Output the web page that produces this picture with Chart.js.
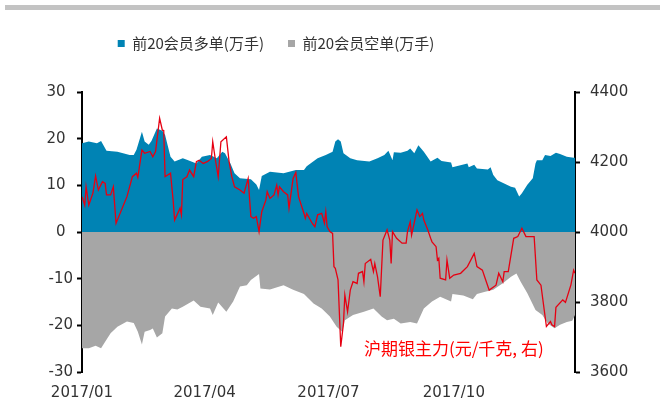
<!DOCTYPE html>
<html>
<head>
<meta charset="utf-8">
<script src="https://cdn.jsdelivr.net/npm/chart.js@4/dist/chart.umd.min.js"></script>
<style>
  body { margin: 0; background: #fff; }
  #wrap { position: relative; width: 660px; height: 419px; }
  #topbar { position: absolute; left: 5px; top: 5px; width: 655px; height: 5px; background: #c3c3c3; }
</style>
</head>
<body>
<div id="wrap">
  <div id="topbar"></div>
  <canvas id="chart" width="660" height="419"></canvas>
</div>
<script>
// x values are days since 2017-01-01
const tickDays = [0, 90, 181, 273];
const tickLabels = ['2017/01', '2017/04', '2017/07', '2017/10'];

// 前20会员多单(万手)
const longDays = [0, 5, 11, 14, 18, 26, 35, 38, 40, 44, 46, 49, 51, 55, 59, 61, 65, 68, 74, 77, 84, 88, 94, 99, 103, 105, 109, 112, 116, 124, 128, 130, 132, 138, 148, 157, 163, 165, 173, 179, 184, 186, 188, 190, 192, 197, 202, 211, 217, 222, 225, 228, 229, 234, 239, 241, 244, 247, 251, 256, 261, 264, 271, 272, 283, 284, 288, 290, 298, 300, 302, 305, 310, 315, 318, 321, 323, 327, 331, 333, 334, 338, 340, 344, 348, 351, 356, 361, 362];
const longValues = [19.0, 19.4, 19.0, 19.5, 17.4, 17.2, 16.5, 16.5, 17.6, 21.5, 19.4, 18.7, 19.5, 22.2, 21.7, 20.8, 16.1, 15.1, 15.8, 15.5, 14.7, 16.1, 16.5, 15.8, 17.2, 16.9, 14.7, 12.6, 11.5, 11.3, 10.2, 9.0, 12.0, 12.9, 12.6, 13.3, 13.3, 14.1, 15.8, 16.5, 17.2, 19.4, 19.9, 19.4, 16.9, 15.8, 15.4, 15.1, 15.8, 16.5, 17.4, 15.4, 17.1, 17.0, 17.4, 17.9, 16.9, 18.6, 17.2, 15.1, 15.9, 15.2, 14.9, 13.9, 14.7, 13.9, 14.4, 13.6, 13.4, 13.9, 12.2, 11.1, 10.4, 9.7, 9.5, 7.6, 8.3, 10.1, 11.5, 14.7, 15.4, 15.4, 16.5, 16.3, 17.0, 16.7, 16.1, 15.9, 15.9];

// 前20会员空单(万手)
const shortDays = [0, 5, 10, 14, 17, 21, 26, 33, 38, 41, 44, 46, 50, 52, 55, 59, 61, 66, 70, 74, 82, 87, 94, 96, 100, 106, 111, 116, 121, 124, 130, 131, 138, 148, 155, 163, 170, 176, 182, 187, 191, 193, 199, 207, 214, 220, 224, 229, 234, 241, 246, 251, 257, 263, 271, 272, 280, 287, 290, 296, 302, 309, 315, 319, 322, 327, 333, 338, 342, 347, 351, 356, 360, 362];
const shortValues = [-24.9, -24.9, -24.4, -24.9, -23.5, -21.7, -20.3, -19.2, -19.5, -21.4, -24.1, -21.4, -21.0, -20.7, -22.6, -21.7, -18.1, -16.4, -16.6, -16.0, -14.7, -16.0, -16.4, -17.8, -15.1, -17.1, -14.9, -11.7, -11.4, -10.3, -9.0, -12.1, -12.3, -11.4, -12.4, -13.3, -15.3, -16.4, -18.1, -20.3, -21.4, -18.9, -17.8, -17.1, -16.4, -18.1, -18.9, -18.6, -19.6, -19.3, -19.6, -16.4, -14.9, -13.9, -14.9, -13.3, -13.6, -14.4, -13.3, -12.8, -12.4, -11.0, -9.6, -8.9, -10.6, -13.1, -16.7, -17.8, -19.6, -20.6, -19.9, -19.3, -19.0, -17.8];

// 沪期银主力(元/千克, 右)
const priceDays = [0, 2, 3, 5, 8, 10, 12, 15, 17, 18, 21, 23, 25, 33, 37, 40, 41, 44, 46, 50, 52, 54, 57, 59, 60, 61, 65, 67, 68, 72, 73, 74, 77, 79, 82, 84, 86, 89, 92, 95, 96, 98, 100, 102, 106, 108, 110, 112, 116, 119, 122, 124, 126, 128, 130, 132, 135, 136, 138, 141, 143, 144, 145, 148, 151, 152, 155, 157, 159, 163, 164, 165, 169, 171, 173, 176, 178, 179, 180, 182, 184, 185, 186, 188, 190, 192, 193, 195, 197, 199, 202, 203, 206, 207, 208, 212, 214, 215, 217, 219, 221, 224, 226, 227, 228, 231, 235, 238, 239, 241, 242, 246, 248, 250, 251, 254, 256, 257, 260, 261, 262, 263, 267, 268, 270, 273, 278, 283, 288, 290, 294, 296, 299, 304, 306, 309, 310, 313, 317, 320, 323, 326, 332, 334, 337, 341, 344, 345, 347, 348, 353, 355, 359, 361, 362];
const priceValues = [4101, 4077, 4129, 4077, 4111, 4160, 4120, 4144, 4139, 4106, 4106, 4129, 4025, 4101, 4158, 4168, 4156, 4234, 4225, 4230, 4215, 4230, 4325, 4291, 4290, 4158, 4168, 4087, 4034, 4068, 4049, 4150, 4158, 4177, 4158, 4201, 4205, 4196, 4201, 4210, 4258, 4205, 4158, 4258, 4272, 4201, 4158, 4129, 4120, 4111, 4153, 4044, 4039, 4044, 4001, 4058, 4091, 4115, 4096, 4106, 4134, 4106, 4129, 4115, 4106, 4068, 4153, 4170, 4101, 4053, 4039, 4053, 4025, 4015, 4049, 4053, 4025, 4058, 4015, 4001, 3996, 3901, 3896, 3863, 3672, 3739, 3820, 3772, 3834, 3858, 3853, 3882, 3887, 3858, 3910, 3922, 3887, 3910, 3872, 3815, 3977, 4006, 3977, 3910, 4001, 3982, 3968, 3968, 4001, 4029, 3991, 4063, 4044, 4053, 4034, 4005, 3982, 3972, 3958, 3920, 3925, 3868, 3863, 3920, 3868, 3877, 3882, 3901, 3939, 3901, 3891, 3868, 3834, 3848, 3882, 3858, 3887, 3887, 3982, 3987, 4011, 3987, 3987, 3863, 3848, 3730, 3744, 3735, 3730, 3785, 3806, 3799, 3849, 3891, 3882];

const priceLabel = '沪期银主力(元/千克, 右)';

function toPoints(days, values) {
    return days.map((d, i) => ({ x: d, y: values[i] }));
}

const numFont = { family: 'DejaVu Sans', size: 15 };
const textColor = '#333';

// legend spacing and red series caption
const extrasPlugin = {
    id: 'extras',
    beforeInit(chart) {
        const legend = chart.legend;
        const origFit = legend.fit;
        legend.fit = function() {
            origFit.call(this);
            this.height = 80;
        };
    },
    afterLayout(chart) {
        chart.legend.left -= 54;
        chart.legend.right -= 54;
    },
    afterDatasetsDraw(chart) {
        const ctx = chart.ctx;
        const x = chart.scales.x.getPixelForValue(273);
        const y = chart.scales.y.getPixelForValue(-25);
        ctx.save();
        ctx.font = '17px "Noto Sans CJK SC"';
        ctx.fillStyle = '#ff0000';
        ctx.textAlign = 'center';
        ctx.textBaseline = 'middle';
        ctx.fillText(priceLabel, x, y);
        ctx.restore();
    }
};

const ctx = document.getElementById('chart').getContext('2d');
new Chart(ctx, {
    type: 'line',
    data: {
        datasets: [{
            label: priceLabel,
            data: toPoints(priceDays, priceValues),
            yAxisID: 'y1',
            borderColor: '#e60012',
            borderWidth: 1.3,
            pointRadius: 0,
            fill: false,
            tension: 0
        }, {
            label: '前20会员多单(万手)',
            data: toPoints(longDays, longValues),
            yAxisID: 'y',
            backgroundColor: '#0083b4',
            borderWidth: 0,
            pointRadius: 0,
            fill: 'origin',
            tension: 0
        }, {
            label: '前20会员空单(万手)',
            data: toPoints(shortDays, shortValues),
            yAxisID: 'y',
            backgroundColor: '#a6a6a6',
            borderWidth: 0,
            pointRadius: 0,
            fill: 'origin',
            tension: 0
        }]
    },
    options: {
        responsive: false,
        animation: false,
        layout: { padding: { top: 12, left: 0, right: 0, bottom: 0 } },
        plugins: {
            tooltip: { enabled: false },
            legend: {
                position: 'top',
                align: 'center',
                labels: {
                    filter: item => item.datasetIndex !== 0,
                    boxWidth: 7,
                    boxHeight: 7,
                    padding: 24,
                    color: textColor,
                    font: { family: 'Noto Sans CJK SC', size: 15 }
                }
            }
        },
        scales: {
            x: {
                type: 'linear',
                position: 'bottom',
                min: 0,
                max: 362,
                afterBuildTicks: scale => { scale.ticks = tickDays.map(v => ({ value: v })); },
                afterFit: scale => { scale.height = 47; },
                grid: { display: false, drawTicks: false },
                border: { display: false },
                ticks: {
                    autoSkip: false,
                    maxRotation: 0,
                    padding: 12,
                    color: textColor,
                    font: numFont,
                    callback: v => tickLabels[tickDays.indexOf(v)]
                }
            },
            x2: {
                type: 'linear',
                axis: 'x',
                position: { y: 0 },
                min: 0,
                max: 362,
                afterBuildTicks: scale => { scale.ticks = tickDays.slice(1).map(v => ({ value: v })); },
                grid: { drawOnChartArea: false, drawTicks: true, tickLength: 5, tickColor: '#000', tickWidth: 2 },
                border: { color: '#000', width: 2 },
                ticks: { display: false }
            },
            y: {
                position: 'left',
                min: -30,
                max: 30,
                afterFit: scale => { scale.width = 82; },
                grid: { drawOnChartArea: false, drawTicks: true, tickLength: 5, tickColor: '#000', tickWidth: 2 },
                border: { color: '#000', width: 2 },
                ticks: {
                    stepSize: 10,
                    padding: 4,
                    color: textColor,
                    font: numFont,
                    callback: v => v < 0 ? String(v) : v + '\u2002'
                }
            },
            y1: {
                position: 'right',
                min: 3600,
                max: 4400,
                afterFit: scale => { scale.width = 85; },
                grid: { drawOnChartArea: false, drawTicks: true, tickLength: 5, tickColor: '#000', tickWidth: 2 },
                border: { color: '#000', width: 2 },
                ticks: {
                    stepSize: 200,
                    padding: 10,
                    color: textColor,
                    font: numFont,
                    callback: v => String(v)
                }
            }
        }
    },
    plugins: [extrasPlugin]
});
</script>
</body>
</html>
